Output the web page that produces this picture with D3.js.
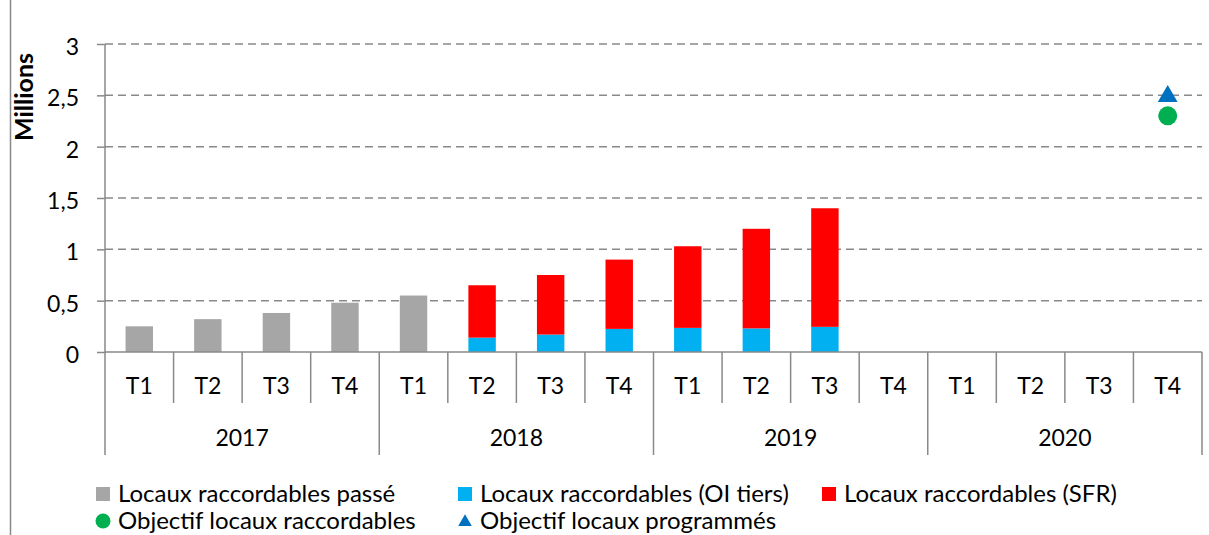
<!DOCTYPE html>
<html>
<head>
<meta charset="utf-8">
<script src="https://cdn.jsdelivr.net/npm/d3@7/dist/d3.min.js"></script>
<style>
  html, body { margin: 0; padding: 0; background: #fff; }
  svg { display: block; font-family: Lato, "Open Sans", sans-serif; }
</style>
</head>
<body>
<svg id="chart" width="1209" height="535"></svg>
<script>
// quarters and years
const quarters = ['T1', 'T2', 'T3', 'T4', 'T1', 'T2', 'T3', 'T4', 'T1', 'T2', 'T3', 'T4', 'T1', 'T2', 'T3', 'T4'];
const years = ['2017', '2018', '2019', '2020'];

// series, millions
const past = [0.25, 0.32, 0.38, 0.48, 0.55, null, null, null, null, null, null, null, null, null, null, null];
const oiTiers = [null, null, null, null, null, 0.14, 0.17, 0.225, 0.235, 0.23, 0.245, null, null, null, null, null];
const sfr = [null, null, null, null, null, 0.51, 0.58, 0.675, 0.795, 0.97, 1.155, null, null, null, null, null];
const objRaccordables = [null, null, null, null, null, null, null, null, null, null, null, null, null, null, null, 2.3];
const objProgrammes = [null, null, null, null, null, null, null, null, null, null, null, null, null, null, null, 2.5];

const yTicks = [0, 0.5, 1, 1.5, 2, 2.5, 3];

const colors = {
  past: '#a6a6a6',
  oi: '#00b0f0',
  sfr: '#ff0000',
  objR: '#00b050',
  objP: '#0070c0',
  axis: '#898989',
};

const svg = d3.select('#chart');
const plotLeft = 105, plotRight = 1202, plotTop = 44, plotBottom = 352;
const axisFont = 23;

const x = d3.scaleBand().domain(d3.range(quarters.length)).range([plotLeft, plotRight]).padding(0);
const y = d3.scaleLinear().domain([0, 3]).range([plotBottom, plotTop]);
const barW = x.bandwidth() * 0.4;
const fmt = (v) => String(v).replace('.', ',');

// chart area left border
svg.append('line')
  .attr('x1', 10.5).attr('x2', 10.5).attr('y1', 0).attr('y2', 535)
  .attr('stroke', colors.axis).attr('stroke-width', 1.5);

// gridlines
svg.append('g')
  .selectAll('line')
  .data(yTicks.filter((d) => d > 0))
  .join('line')
  .attr('x1', plotLeft).attr('x2', plotRight)
  .attr('y1', (d) => y(d)).attr('y2', (d) => y(d))
  .attr('stroke', colors.axis).attr('stroke-width', 1.5)
  .attr('stroke-dasharray', '8,5');

// y axis
const yAxis = svg.append('g')
  .attr('transform', `translate(${plotLeft},0)`)
  .call(d3.axisLeft(y).tickValues(yTicks).tickSize(8).tickPadding(18).tickFormat(fmt));
yAxis.select('.domain').remove();
yAxis.selectAll('.tick line').attr('stroke', colors.axis).attr('stroke-width', 1.5);
yAxis.selectAll('.tick text')
  .attr('font-family', 'Lato, sans-serif')
  .attr('font-size', axisFont)
  .attr('fill', '#000')
  .attr('dy', '0.45em');

svg.append('text')
  .attr('transform', 'translate(33,97) rotate(-90)')
  .attr('text-anchor', 'middle')
  .attr('font-size', 25)
  .attr('font-weight', 'bold')
  .attr('fill', '#000')
  .text('Millions');

// bars
const bx = (i) => x(i) + (x.bandwidth() - barW) / 2;
const idx = d3.range(quarters.length);

svg.append('g').selectAll('rect')
  .data(idx.filter((i) => past[i] != null))
  .join('rect')
  .attr('x', bx).attr('width', barW)
  .attr('y', (i) => y(past[i]))
  .attr('height', (i) => y(0) - y(past[i]))
  .attr('fill', colors.past);

svg.append('g').selectAll('rect')
  .data(idx.filter((i) => oiTiers[i] != null))
  .join('rect')
  .attr('x', bx).attr('width', barW)
  .attr('y', (i) => y(oiTiers[i]))
  .attr('height', (i) => y(0) - y(oiTiers[i]))
  .attr('fill', colors.oi);

svg.append('g').selectAll('rect')
  .data(idx.filter((i) => sfr[i] != null))
  .join('rect')
  .attr('x', bx).attr('width', barW)
  .attr('y', (i) => y(oiTiers[i] + sfr[i]))
  .attr('height', (i) => y(oiTiers[i]) - y(oiTiers[i] + sfr[i]))
  .attr('fill', colors.sfr);

// x axis (two-level category axis)
const gx = svg.append('g');
gx.append('line')
  .attr('x1', plotLeft).attr('x2', plotRight).attr('y1', plotBottom).attr('y2', plotBottom)
  .attr('stroke', colors.axis).attr('stroke-width', 1.5);
gx.selectAll('line.sep')
  .data(d3.range(quarters.length + 1))
  .join('line')
  .attr('class', 'sep')
  .attr('x1', (i) => plotLeft + i * x.step()).attr('x2', (i) => plotLeft + i * x.step())
  .attr('y1', (i) => (i === 0 ? plotTop : plotBottom))
  .attr('y2', (i) => (i % 4 === 0 ? 455 : 403))
  .attr('stroke', colors.axis).attr('stroke-width', 1.5);
gx.selectAll('text.q')
  .data(idx)
  .join('text')
  .attr('class', 'q')
  .attr('x', (i) => x(i) + x.bandwidth() / 2)
  .attr('y', 394)
  .attr('text-anchor', 'middle')
  .attr('font-size', axisFont)
  .text((i) => quarters[i]);
gx.selectAll('text.yr')
  .data(years)
  .join('text')
  .attr('class', 'yr')
  .attr('x', (d, j) => plotLeft + (j * 4 + 2) * x.step())
  .attr('y', 446)
  .attr('text-anchor', 'middle')
  .attr('font-size', axisFont)
  .text((d) => d);

// objective markers
svg.append('g').selectAll('circle')
  .data(idx.filter((i) => objRaccordables[i] != null))
  .join('circle')
  .attr('cx', (i) => x(i) + x.bandwidth() / 2)
  .attr('cy', (i) => y(objRaccordables[i]))
  .attr('r', 9.5)
  .attr('fill', colors.objR);

svg.append('g').selectAll('path')
  .data(idx.filter((i) => objProgrammes[i] != null))
  .join('path')
  .attr('transform', (i) => `translate(${x(i) + x.bandwidth() / 2},${y(objProgrammes[i]) + 1})`)
  .attr('d', d3.symbol(d3.symbolTriangle, 170))
  .attr('fill', colors.objP);

// legend
const legend = [
  { label: 'Locaux raccordables passé', color: colors.past, shape: 'square', x: 96, y: 494 },
  { label: 'Locaux raccordables (OI tiers)', color: colors.oi, shape: 'square', x: 458, y: 494 },
  { label: 'Locaux raccordables (SFR)', color: colors.sfr, shape: 'square', x: 822, y: 494 },
  { label: 'Objectif locaux raccordables', color: colors.objR, shape: 'circle', x: 96, y: 521 },
  { label: 'Objectif locaux programmés', color: colors.objP, shape: 'triangle', x: 458, y: 521 },
];
const lg = svg.append('g').selectAll('g').data(legend).join('g')
  .attr('transform', (d) => `translate(${d.x},${d.y})`);
lg.filter((d) => d.shape === 'square').append('rect')
  .attr('x', 0).attr('y', -7).attr('width', 14).attr('height', 14)
  .attr('fill', (d) => d.color);
lg.filter((d) => d.shape === 'circle').append('circle')
  .attr('cx', 7).attr('cy', 0).attr('r', 7.5)
  .attr('fill', (d) => d.color);
lg.filter((d) => d.shape === 'triangle').append('path')
  .attr('transform', 'translate(7,1)')
  .attr('d', d3.symbol(d3.symbolTriangle, 80))
  .attr('fill', (d) => d.color);
lg.append('text')
  .attr('x', 22).attr('y', 8)
  .attr('font-size', 24)
  .attr('fill', '#000')
  .text((d) => d.label);
</script>
</body>
</html>
